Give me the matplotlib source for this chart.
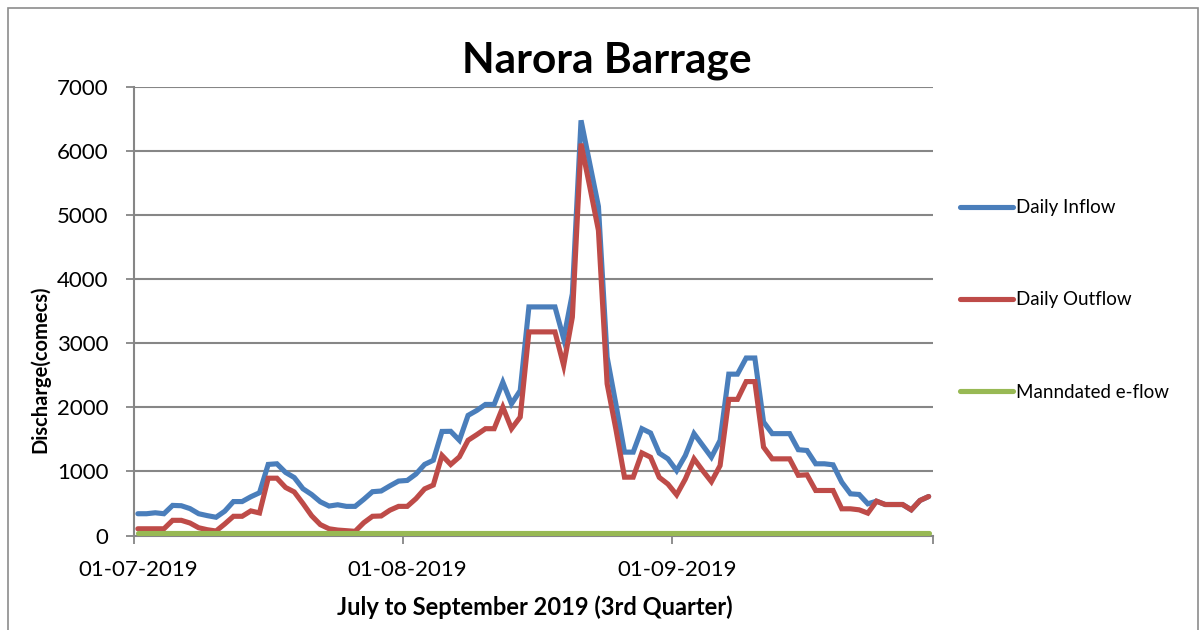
import matplotlib
matplotlib.use("Agg")
import matplotlib.pyplot as plt
from matplotlib.patches import Rectangle
import numpy as np

plt.rcParams['font.family'] = ['Lato', 'DejaVu Sans']

# ---- data (daily values, 01-07-2019 .. 30-09-2019) ----
daily_inflow = [
    340, 340, 355, 340, 470, 465, 420, 340, 310, 285,
    380, 530, 530, 605, 668, 1110, 1120, 985, 905, 730,
    640, 526, 460, 480, 455, 455, 565, 684, 695, 775,
    850, 860, 960, 1110, 1175, 1625, 1627, 1487, 1876, 1953,
    2047, 2047, 2394, 2057, 2264, 3570, 3570, 3570, 3570, 3073,
    3776, 6484, 5810, 5140, 2786, 2057, 1302, 1302, 1668, 1601,
    1286, 1197, 1013, 1249, 1591, 1407, 1223, 1486, 2520, 2520,
    2772, 2772, 1774, 1591, 1591, 1591, 1340, 1328, 1120, 1120,
    1104, 833, 651, 641, 495, 536, 484, 484, 484, 401,
    547, 609,
]
daily_outflow = [
    105, 105, 105, 105, 237, 237, 195, 121, 90, 70,
    180, 300, 300, 384, 352, 895, 895, 750, 680, 500,
    308, 170, 105, 85, 75, 65, 200, 300, 305, 395,
    455, 455, 575, 728, 788, 1250, 1109, 1228, 1487, 1575,
    1668, 1668, 2005, 1668, 1850, 3180, 3180, 3180, 3180, 2656,
    3411, 6120, 5450, 4766, 2370, 1667, 911, 911, 1290, 1223,
    908, 803, 635, 882, 1197, 1013, 840, 1092, 2126, 2126,
    2404, 2404, 1381, 1197, 1197, 1197, 940, 948, 703, 703,
    703, 417, 417, 401, 349, 536, 484, 484, 484, 401,
    547, 609,
]
mandated_eflow = [45] * 92

date_labels = ["01-07-2019", "01-08-2019", "01-09-2019"]
label_days = [0, 31, 62]
month_boundaries = [-0.5, 30.5, 61.5, 91.5]
y_ticks = [0, 1000, 2000, 3000, 4000, 5000, 6000, 7000]

series_names = ["Daily Inflow", "Daily Outflow", "Manndated e-flow"]
series_colors = ["#4A7EBB", "#BE4B48", "#98B954"]

# ---- figure ----
W, H = 1201, 630
fig = plt.figure(figsize=(W / 100, H / 100), dpi=100)
ax = fig.add_axes([133.5 / W, (H - 535.5) / H, (933 - 133.5) / W, (535.5 - 87.3) / H])

days = np.arange(len(daily_inflow))
for vals, name, col in zip([daily_inflow, daily_outflow, mandated_eflow], series_names, series_colors):
    ax.plot(days, vals, color=col, lw=3.7, label=name, solid_capstyle='round',
            solid_joinstyle='miter', zorder=3)

grid_col = "#868686"
ax.set_xlim(-0.5, 91.5)
ax.set_ylim(0, 7000)
ax.set_yticks(y_ticks)
ax.set_yticklabels([str(v) for v in y_ticks], fontsize=16)
ax.yaxis.grid(True, color=grid_col, lw=1.5)
ax.set_axisbelow(True)

ax.set_xticks(month_boundaries)
ax.set_xticklabels([])
ax.set_xticks(label_days, minor=True)
ax.set_xticklabels(date_labels, minor=True, fontsize=16)
ax.tick_params(axis='x', which='major', length=6, width=1.3, color=grid_col, direction='out')
ax.tick_params(axis='x', which='minor', length=0, pad=18)
ax.tick_params(axis='y', length=6, width=1.3, color=grid_col, direction='out', pad=12)

for s in ['top', 'right']:
    ax.spines[s].set_visible(False)
for s in ['left', 'bottom']:
    ax.spines[s].set_color(grid_col)
    ax.spines[s].set_linewidth(1.5)

fig.text(607 / W, 1 - 61 / H, "Narora Barrage", fontsize=30.5, fontweight='bold',
         ha='center', va='center')
fig.text(535 / W, 1 - 607 / H, "July to September 2019 (3rd Quarter)", fontsize=17,
         fontweight='bold', ha='center', va='center')
fig.text(40 / W, 1 - 369 / H, "Discharge(comecs)", fontsize=14.5, fontweight='bold',
         ha='center', va='center', rotation=90)

leg = fig.legend(loc='center left', bbox_to_anchor=(960 / W, 1 - 300 / H),
                 frameon=False, fontsize=13.5, handlelength=2.8, handletextpad=0.2,
                 labelspacing=4.0, borderpad=0, borderaxespad=0)
for h in leg.get_lines():
    h.set_linewidth(3.7)
    h.set_solid_capstyle('round')

# chart-area border
fig.add_artist(Rectangle((8 / W, -0.05), (1198 - 8) / W, 1.05 - 8 / H,
                         transform=fig.transFigure, fill=False,
                         edgecolor="#8C8C8C", lw=1.2))

fig.savefig("out.png", dpi=100)
